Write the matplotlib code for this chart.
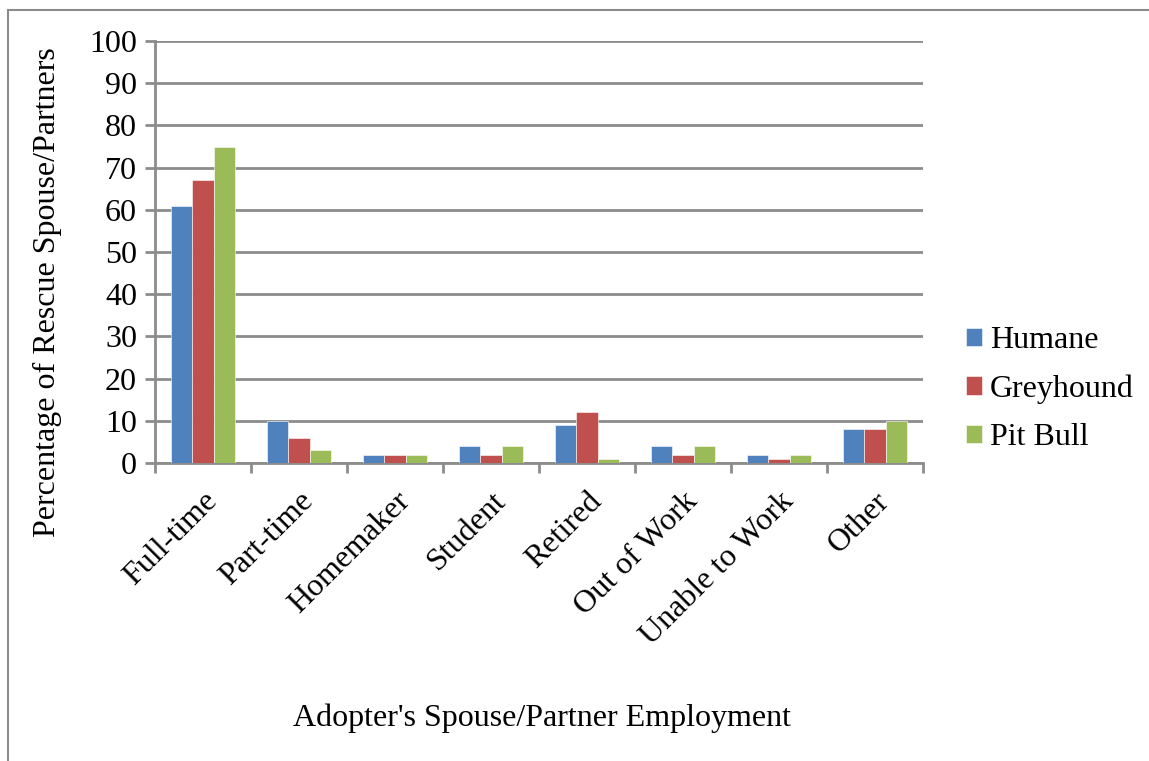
import numpy as np
import matplotlib.pyplot as plt
from matplotlib.lines import Line2D

# --- Data ---
categories = ["Full-time", "Part-time", "Homemaker", "Student", "Retired",
              "Out of Work", "Unable to Work", "Other"]
humane = [61, 10, 2, 4, 9, 4, 2, 8]
greyhound = [67, 6, 2, 2, 12, 2, 1, 8]
pit_bull = [75, 3, 2, 4, 1, 4, 2, 10]

series = [("Humane", humane, "#4F81BD"),
          ("Greyhound", greyhound, "#C0504D"),
          ("Pit Bull", pit_bull, "#9BBB59")]

plt.rcParams['font.family'] = ['Liberation Serif', 'DejaVu Serif']
GRID = "#8C8C8C"
FS = 23

fig = plt.figure(figsize=(11.49, 7.61), dpi=100)
ax = fig.add_axes([0.1349, 0.3916, 0.6684, 0.5545])

x = np.arange(len(categories))
width = 0.22
for i, (name, vals, color) in enumerate(series):
    ax.bar(x + (i - 1) * width, vals, width, color=color, label=name,
           edgecolor="white", linewidth=0.4, zorder=3)

ax.set_xlim(-0.5, len(categories) - 0.5)
ax.set_ylim(0, 100)
ax.set_yticks(np.arange(0, 101, 10))
ax.yaxis.grid(True, color=GRID, linewidth=2, zorder=0)
ax.set_axisbelow(True)

# category labels centred, tick marks on the boundaries
ax.set_xticks(x)
ax.set_xticklabels(categories, rotation=45, ha="right", rotation_mode="anchor")
ax.set_xticks(np.arange(-0.5, len(categories)), minor=True)
ax.tick_params(axis="x", which="major", length=0, pad=17, labelsize=FS)
ax.tick_params(axis="x", which="minor", length=7, width=2, color=GRID, direction="out")
ax.tick_params(axis="y", length=7, width=2, color=GRID, labelsize=FS, pad=6)

for side in ["top", "right"]:
    ax.spines[side].set_visible(False)
for side in ["left", "bottom"]:
    ax.spines[side].set_color(GRID)
    ax.spines[side].set_linewidth(2)

ax.set_ylabel("Percentage of Rescue Spouse/Partners", fontsize=FS)
ax.yaxis.set_label_coords(-0.121, 0.405)
fig.text(0.472, 0.056, "Adopter's Spouse/Partner Employment", fontsize=FS,
         ha="center", va="center")

ax.legend(loc="center left", bbox_to_anchor=(1.056, 0.175), frameon=False,
          fontsize=FS, handlelength=0.5, handleheight=0.5, borderpad=0,
          borderaxespad=0, handletextpad=0.25, labelspacing=0.6)

# outer chart frame
fig.add_artist(Line2D([0.007, 0.007], [0.0, 0.987], color=GRID, linewidth=1.5))
fig.add_artist(Line2D([0.007, 1.0], [0.987, 0.987], color=GRID, linewidth=1.5))

fig.savefig("out.png", dpi=100)
